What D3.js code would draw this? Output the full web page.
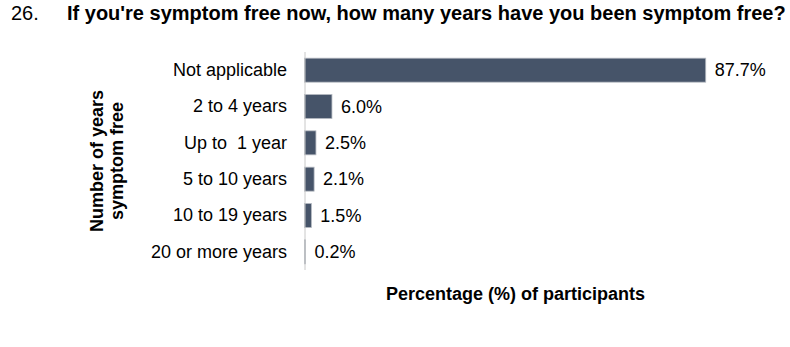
<!DOCTYPE html>
<html>
<head>
<meta charset="utf-8">
<script src="https://cdn.jsdelivr.net/npm/d3@7"></script>
<style>
  html, body { margin: 0; padding: 0; background: #fff; }
  svg { display: block; font-family: "Liberation Sans", Arial, sans-serif; }
  svg text { white-space: pre; }
</style>
</head>
<body>
<svg id="chart" width="790" height="347"></svg>
<script>
const categories = ["Not applicable", "2 to 4 years", "Up to  1 year", "5 to 10 years", "10 to 19 years", "20 or more years"];
const values = [87.7, 6.0, 2.5, 2.1, 1.5, 0.2];
const valueLabels = ["87.7%", "6.0%", "2.5%", "2.1%", "1.5%", "0.2%"];
const titleNumber = "26.";
const titleText = "If you're symptom free now, how many years have you been symptom free?";
const yTitleLines = ["Number of years", "symptom free"];
const xTitle = "Percentage (%) of participants";

const data = categories.map((c, i) => ({ cat: c, value: values[i], label: valueLabels[i] }));

const svg = d3.select("#chart");
const barColor = "#465469";

const x = d3.scaleLinear().domain([0, 100]).range([304.5, 762]);
const y = d3.scaleBand().domain(categories).range([52, 270]).paddingInner(0.34).paddingOuter(0.17);

// Title
svg.append("text").attr("x", 11).attr("y", 19.5)
  .attr("font-size", 20).attr("fill", "#000").text(titleNumber);
svg.append("text").attr("x", 67).attr("y", 19.5)
  .attr("font-size", 20).attr("font-weight", "bold").attr("fill", "#000").text(titleText);

// Bars
svg.append("g").selectAll("rect").data(data).join("rect")
  .attr("x", x(0))
  .attr("y", d => y(d.cat))
  .attr("width", d => Math.max(0.5, x(d.value) - x(0)))
  .attr("height", y.bandwidth())
  .attr("fill", barColor)
  .attr("stroke", "#b4b9c1")
  .attr("stroke-width", 0.8);

// Axis (category labels, no ticks)
const yAxis = d3.axisLeft(y).tickSize(0).tickPadding(0);
const gy = svg.append("g").attr("transform", `translate(${x(0)},0)`).call(yAxis);
gy.select(".domain").attr("stroke", "#c8c8c8").attr("stroke-width", 1)
  .attr("d", `M0.5,${y.range()[0]}V${y.range()[1]}`);
gy.selectAll(".tick text")
  .attr("x", 287 - x(0))
  .attr("font-size", 18)
  .attr("font-family", "'Liberation Sans', Arial, sans-serif")
  .attr("fill", "#000")
  .style("white-space", "pre");

// Value labels
svg.append("g").selectAll("text").data(data).join("text")
  .attr("x", d => x(d.value) + 9)
  .attr("y", d => y(d.cat) + y.bandwidth() / 2)
  .attr("dy", "0.35em")
  .attr("font-size", 18)
  .attr("fill", "#000")
  .text(d => d.label);

// Y title
const yt = svg.append("text")
  .attr("transform", "translate(0,161) rotate(-90)")
  .attr("text-anchor", "middle")
  .attr("font-size", 18).attr("font-weight", "bold").attr("fill", "#000");
yt.selectAll("tspan").data(yTitleLines).join("tspan")
  .attr("x", 0)
  .attr("y", (d, i) => 103 + i * 20)
  .text(d => d);

// X title
svg.append("text").attr("x", 515.5).attr("y", 300)
  .attr("text-anchor", "middle")
  .attr("font-size", 18).attr("font-weight", "bold").attr("fill", "#000")
  .text(xTitle);
</script>
</body>
</html>
